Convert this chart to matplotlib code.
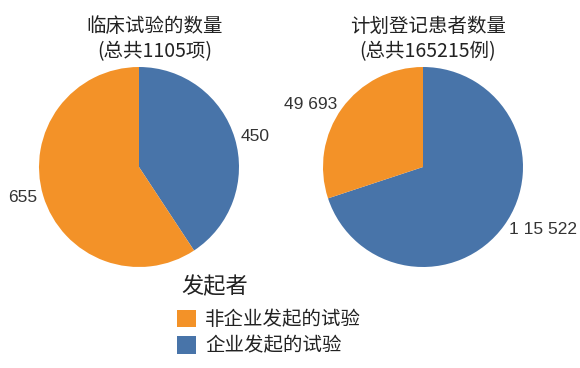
import matplotlib
matplotlib.use("Agg")
import matplotlib.pyplot as plt

plt.rcParams['font.family'] = ['Noto Sans CJK SC', 'DejaVu Sans']

# 数据
categorias = ['企业发起的试验', '非企业发起的试验']
ensayos = [450, 655]
ensayos_etiquetas = ['450', '655']
pacientes = [115522, 49693]
pacientes_etiquetas = ['1 15 522', '49 693']
titulos = ['临床试验的数量\n(总共1105项)', '计划登记患者数量\n(总共165215例)']
leyenda_titulo = '发起者'
colores = ['#4874A9', '#F39228']
texto = '#333333'

W, H = 580, 368
fig = plt.figure(figsize=(W / 100, H / 100), dpi=100)
ax = fig.add_axes([0, 0, 1, 1])

fuente_num = {'family': ['Liberation Sans', 'DejaVu Sans'], 'size': 12.5, 'color': texto}

def pastel(valores, etiquetas, cx, cy):
    cuñas, textos = ax.pie(valores, labels=etiquetas, colors=colores, startangle=90,
                           counterclock=False, center=(cx, cy), radius=100,
                           labeldistance=1.06, textprops=fuente_num)
    # pie decide la alineacion con la x absoluta; corregir respecto al centro
    for t in textos:
        x, y = t.get_position()
        t.set_ha('left' if x > cx else 'right')
    return cuñas

cuñas = pastel(ensayos, ensayos_etiquetas, 139, H - 167)
pastel(pacientes, pacientes_etiquetas, 423, H - 167)

ax.set_xlim(0, W)
ax.set_ylim(0, H)
ax.set_aspect('equal')
ax.axis('off')

ax.text(155, H - 39, titulos[0], ha='center', va='center', fontsize=14,
        color='#222222', linespacing=1.25)
ax.text(428, H - 39, titulos[1], ha='center', va='center', fontsize=14,
        color='#222222', linespacing=1.25)

ax.text(181, H - 287, leyenda_titulo, ha='left', va='center', fontsize=16,
        color='#222222')
leg = ax.legend([cuñas[1], cuñas[0]], [categorias[1], categorias[0]],
                loc='upper left', bbox_to_anchor=(177 / W, 1 - 309 / H),
                frameon=False, fontsize=14,
                handlelength=1.0, handleheight=1.0, handletextpad=0.45,
                labelspacing=0.3, borderaxespad=0, borderpad=0)
for t in leg.get_texts():
    t.set_color('#222222')

fig.savefig('out.png', dpi=100)
